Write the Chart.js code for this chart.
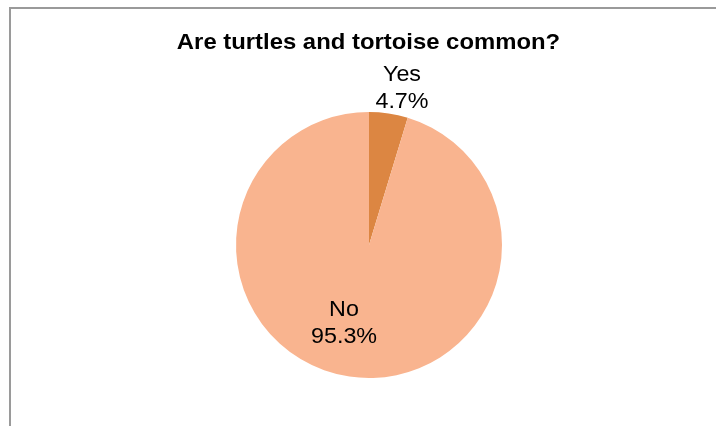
<!DOCTYPE html>
<html>
<head>
<meta charset="utf-8">
<script src="https://cdn.jsdelivr.net/npm/chart.js@4/dist/chart.umd.min.js"></script>
<style>
html,body{margin:0;padding:0;background:#fff;}
#wrap{position:relative;width:716px;height:426px;}
</style>
</head>
<body>
<div id="wrap"><canvas id="c" width="716" height="426"></canvas></div>
<script>
const titleText = "Are turtles and tortoise common?";
const categories = ["Yes", "No"];
const values = [4.7, 95.3];
const percentLabels = ["4.7%", "95.3%"];
const sliceColors = ["#DC8642", "#F9B48F"];

function wideText(ctx, text, x, y, sx) {
  ctx.save();
  ctx.translate(x, y);
  ctx.scale(sx, 1);
  ctx.fillText(text, 0, 0);
  ctx.restore();
}

const frameAndLabels = {
  id: 'frameAndLabels',
  beforeDraw(chart) {
    const ctx = chart.ctx;
    ctx.save();
    ctx.fillStyle = '#fff';
    ctx.fillRect(0, 0, chart.width, chart.height);
    ctx.strokeStyle = '#9a9a9a';
    ctx.lineWidth = 2;
    ctx.beginPath();
    ctx.moveTo(10, 426);
    ctx.lineTo(10, 8);
    ctx.lineTo(716, 8);
    ctx.stroke();
    ctx.restore();
  },
  afterDraw(chart) {
    const ctx = chart.ctx;
    ctx.save();
    ctx.fillStyle = '#000';
    ctx.textAlign = 'center';
    ctx.textBaseline = 'alphabetic';
    ctx.font = 'bold 22px "Liberation Sans", Arial, sans-serif';
    wideText(ctx, titleText, 368.5, 48.5, 1.085);
    const meta = chart.getDatasetMeta(0);
    const place = [{r: 1.221, da: 0.057}, {r: 0.605, da: 0.168}];
    ctx.font = '22px "Liberation Sans", Arial, sans-serif';
    meta.data.forEach((arc, i) => {
      const mid = (arc.startAngle + arc.endAngle) / 2 + place[i].da;
      const rr = arc.outerRadius * place[i].r;
      const x = arc.x + Math.cos(mid) * rr;
      const y = arc.y + Math.sin(mid) * rr;
      wideText(ctx, categories[i], x, y - 5, 1.06);
      wideText(ctx, percentLabels[i], x, y + 22, 1.06);
    });
    ctx.restore();
  }
};

new Chart(document.getElementById('c'), {
  type: 'pie',
  data: {
    labels: categories,
    datasets: [{
      data: values,
      backgroundColor: sliceColors,
      borderWidth: 0
    }]
  },
  options: {
    responsive: false,
    animation: false,
    layout: { padding: { left: 236, right: 214, top: 112, bottom: 48 } },
    plugins: {
      legend: { display: false },
      title: { display: false },
      tooltip: { enabled: false }
    }
  },
  plugins: [frameAndLabels]
});
</script>
</body>
</html>
